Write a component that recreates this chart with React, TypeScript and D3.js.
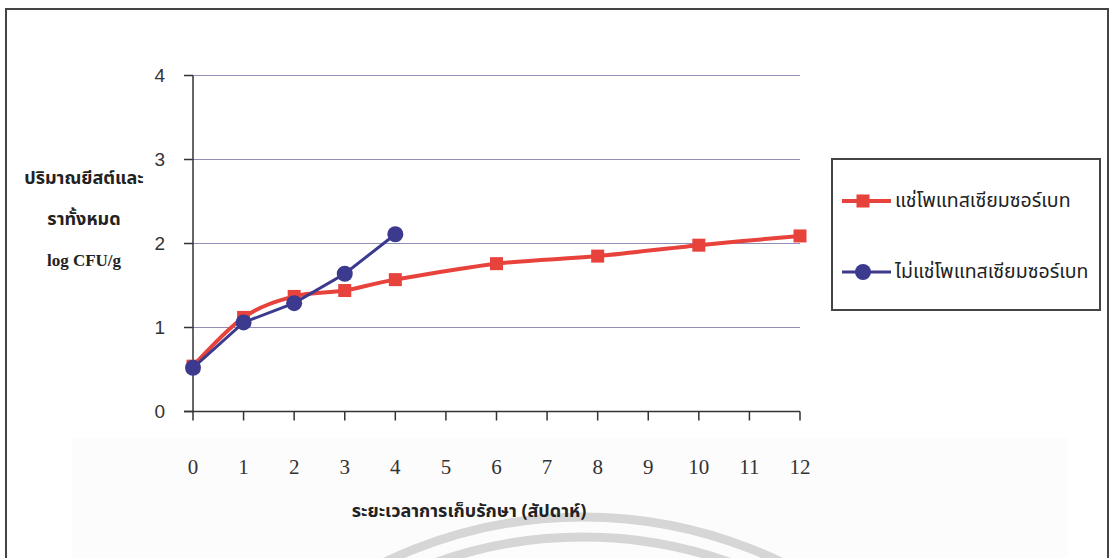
import React from "react";
import * as d3 from "d3";

// Storage time (weeks) and total yeast & mould counts (log CFU/g)
const weeksSoaked = [0, 1, 2, 3, 4, 6, 8, 10, 12];
const countsSoaked = [0.54, 1.12, 1.37, 1.44, 1.57, 1.76, 1.85, 1.98, 2.09];
const weeksUnsoaked = [0, 1, 2, 3, 4];
const countsUnsoaked = [0.52, 1.06, 1.29, 1.64, 2.11];

const xTicks = [0, 1, 2, 3, 4, 5, 6, 7, 8, 9, 10, 11, 12];
const yTicks = [0, 1, 2, 3, 4];

const seriesNames = ["แช่โพแทสเซียมซอร์เบท", "ไม่แช่โพแทสเซียมซอร์เบท"];
const yTitleLines = ["ปริมาณยีสต์และ", "ราทั้งหมด", "log CFU/g"];
const xTitle = "ระยะเวลาการเก็บรักษา (สัปดาห์)";

const RED = "#e8423c";
const BLUE = "#3c3a8e";
const THAI = "'Noto Sans Thai', 'Noto Serif Thai', Loma, Garuda, 'Tlwg Typo', sans-serif";

export default function App() {
  const x = d3.scaleLinear().domain([0, 12]).range([193, 800]);
  const y = d3.scaleLinear().domain([0, 4]).range([411.5, 75.5]);

  const soaked = weeksSoaked.map((w, i) => [x(w), y(countsSoaked[i])] as [number, number]);
  const unsoaked = weeksUnsoaked.map((w, i) => [x(w), y(countsUnsoaked[i])] as [number, number]);

  const smoothLine = d3.line().curve(d3.curveCardinal.tension(0));
  const straightLine = d3.line();

  const sq = 13;
  const legendX = 832;
  const legendY = 159;

  return (
    <svg
      width={1110}
      height={558}
      style={{ position: "absolute", left: 0, top: 0, background: "#fff" }}
    >
      {/* faint paper tint at the bottom */}
      <rect x={72} y={438} width={996} height={130} fill="#fcfcfc" />
      {/* watermark rings */}
      <g fill="none" stroke="#d6d6d6" strokeWidth={9}>
        <circle cx={583} cy={975} r={458} />
        <circle cx={583} cy={975} r={438} />
      </g>

      {/* outer frame */}
      <rect x={6} y={9} width={1102} height={580} fill="none" stroke="#444" strokeWidth={2} />

      {/* gridlines */}
      {yTicks.filter((t) => t > 0).map((t) => (
        <line key={t} x1={193} x2={800} y1={y(t)} y2={y(t)} stroke="#8f8fb8" strokeWidth={1} />
      ))}

      {/* y axis */}
      <line x1={193} x2={193} y1={y(4)} y2={y(0)} stroke="#333" strokeWidth={1.5} />
      {yTicks.map((t) => (
        <g key={t}>
          <line x1={184} x2={193} y1={y(t)} y2={y(t)} stroke="#333" strokeWidth={1.5} />
          <text
            x={165}
            y={y(t)}
            textAnchor="end"
            dominantBaseline="central"
            fontFamily="'Liberation Sans', Arial, sans-serif"
            fontSize={19}
            fill="#333"
          >
            {t}
          </text>
        </g>
      ))}

      {/* x axis */}
      <line x1={184} x2={800} y1={y(0)} y2={y(0)} stroke="#333" strokeWidth={1.5} />
      {xTicks.map((t) => (
        <g key={t}>
          <line x1={x(t)} x2={x(t)} y1={y(0)} y2={y(0) + 9} stroke="#333" strokeWidth={1.5} />
          <text
            x={x(t)}
            y={467}
            textAnchor="middle"
            dominantBaseline="central"
            fontFamily="'Liberation Serif', 'Times New Roman', serif"
            fontSize={21}
            fill="#333"
          >
            {t}
          </text>
        </g>
      ))}

      {/* axis titles */}
      <g fontFamily={THAI} fontWeight="bold" fontSize={18} fill="#222" textAnchor="middle">
        {yTitleLines.map((s, i) => (
          <text
            key={i}
            x={84}
            y={184 + i * 41}
            fontSize={i === 2 ? 17 : 18}
            fontFamily={i === 2 ? "'Liberation Serif', 'Times New Roman', serif" : THAI}
          >
            {s}
          </text>
        ))}
        <text x={469} y={517}>{xTitle}</text>
      </g>

      {/* series: soaked (smoothed) */}
      <path d={smoothLine(soaked) || ""} fill="none" stroke={RED} strokeWidth={4} />
      {soaked.map(([px, py], i) => (
        <rect key={i} x={px - sq / 2} y={py - sq / 2} width={sq} height={sq} fill={RED} />
      ))}

      {/* series: not soaked */}
      <path d={straightLine(unsoaked) || ""} fill="none" stroke={BLUE} strokeWidth={3} />
      {unsoaked.map(([px, py], i) => (
        <circle key={i} cx={px} cy={py} r={8} fill={BLUE} />
      ))}

      {/* legend */}
      <rect
        x={legendX}
        y={legendY}
        width={268}
        height={151}
        fill="#fff"
        stroke="#444"
        strokeWidth={2}
      />
      <g>
        <line x1={842} x2={891} y1={201} y2={201} stroke={RED} strokeWidth={4} />
        <rect x={863 - sq / 2} y={201 - sq / 2} width={sq} height={sq} fill={RED} />
        <text x={895} y={201} dominantBaseline="central" fontFamily={THAI} fontSize={19.5} fill="#222">
          {seriesNames[0]}
        </text>
        <line x1={842} x2={891} y1={272} y2={272} stroke={BLUE} strokeWidth={3} />
        <circle cx={863} cy={272} r={8} fill={BLUE} />
        <text x={895} y={272} dominantBaseline="central" fontFamily={THAI} fontSize={19.5} fill="#222">
          {seriesNames[1]}
        </text>
      </g>
    </svg>
  );
}
